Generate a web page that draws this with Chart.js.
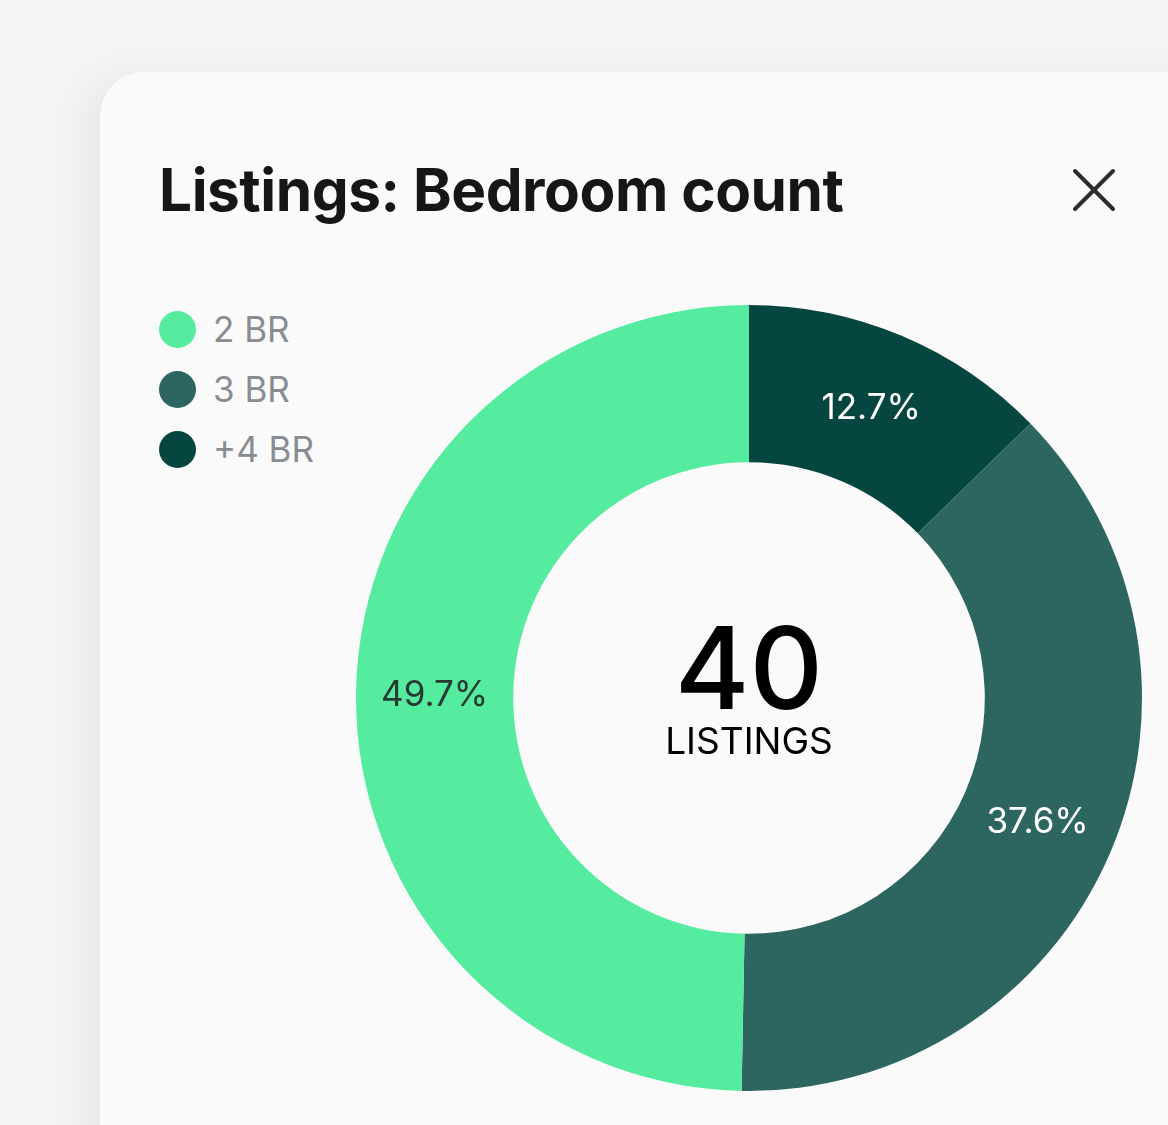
<!DOCTYPE html>
<html>
<head>
<meta charset="utf-8">
<script src="https://cdn.jsdelivr.net/npm/chart.js@4/dist/chart.umd.min.js"></script>
<style>
  html, body { margin: 0; padding: 0; }
  body { width: 1168px; height: 1125px; background: #f4f4f4; overflow: hidden; position: relative; font-family: Inter, "Noto Sans", sans-serif; }
  #card { position: absolute; left: 100px; top: 72px; width: 1200px; height: 1200px; background: #fafafa; border-radius: 44px; box-shadow: -14px 6px 40px rgba(0,0,0,0.06); }
  #title { position: absolute; left: 159px; top: 154px; margin: 0; font-size: 58.5px; font-weight: 700; color: #161616; letter-spacing: -0.45px; white-space: nowrap; }
  #close { position: absolute; left: 1072px; top: 168px; }
  #legend { position: absolute; left: 159px; top: 299px; list-style: none; margin: 0; padding: 0; }
  #legend li { display: flex; align-items: center; height: 60px; font-size: 35px; color: #898c90; }
  #legend li span.dot { width: 37px; height: 37px; border-radius: 50%; margin-right: 17px; display: inline-block; }
  #wrap { position: absolute; left: 0; top: 0; width: 1168px; height: 1125px; }
</style>
</head>
<body>
<div id="card"></div>
<h1 id="title">Listings: Bedroom count</h1>
<svg id="close" width="44" height="44" viewBox="0 0 44 44"><path d="M3 3 L41 41 M41 3 L3 41" stroke="#2b2d31" stroke-width="4" stroke-linecap="round"/></svg>
<ul id="legend"></ul>
<div id="wrap"><canvas id="c" width="1168" height="1125"></canvas></div>
<script>
const categories = ['+4 BR', '3 BR', '2 BR'];
const shares = [12.7, 37.6, 49.7];
const colors = ['#064640', '#2d6660', '#55eca0'];
const labelColors = ['#ffffff', '#ffffff', '#263a31'];
const totalListings = 40;
const centerCaption = 'LISTINGS';

const sliceLabels = {
  id: 'sliceLabels',
  afterDatasetsDraw(chart) {
    const ctx = chart.ctx;
    const meta = chart.getDatasetMeta(0);
    ctx.save();
    ctx.font = '400 35px Inter, "Noto Sans", sans-serif';
    ctx.textAlign = 'center';
    ctx.textBaseline = 'middle';
    meta.data.forEach((arc, i) => {
      const p = arc.tooltipPosition();
      ctx.fillStyle = labelColors[i];
      ctx.fillText(shares[i].toFixed(1) + '%', p.x, p.y);
    });
    ctx.restore();
  }
};

const centerText = {
  id: 'centerText',
  afterDatasetsDraw(chart) {
    const ctx = chart.ctx;
    const arc = chart.getDatasetMeta(0).data[0];
    const cx = arc.x, cy = arc.y;
    ctx.save();
    ctx.textAlign = 'center';
    ctx.textBaseline = 'alphabetic';
    ctx.fillStyle = '#000000';
    ctx.font = '500 114px Inter, "Noto Sans", sans-serif';
    ctx.fillText(String(totalListings), cx, cy + 11);
    ctx.font = '400 37px Inter, "Noto Sans", sans-serif';
    ctx.fillText(centerCaption, cx, cy + 56);
    ctx.restore();
  }
};

const htmlLegend = {
  id: 'htmlLegend',
  afterUpdate(chart) {
    const ul = document.getElementById('legend');
    ul.innerHTML = '';
    const items = chart.options.plugins.legend.labels.generateLabels(chart).slice().reverse();
    items.forEach(item => {
      const li = document.createElement('li');
      const dot = document.createElement('span');
      dot.className = 'dot';
      dot.style.background = item.fillStyle;
      li.appendChild(dot);
      li.appendChild(document.createTextNode(item.text));
      ul.appendChild(li);
    });
  }
};

new Chart(document.getElementById('c'), {
  type: 'doughnut',
  data: {
    labels: categories,
    datasets: [{
      data: shares,
      backgroundColor: colors,
      borderWidth: 0,
      hoverOffset: 0
    }]
  },
  options: {
    responsive: false,
    animation: false,
    cutout: '60%',
    layout: { padding: { left: 356, right: 26, top: 305, bottom: 34 } },
    plugins: {
      legend: { display: false },
      tooltip: { enabled: false }
    }
  },
  plugins: [sliceLabels, centerText, htmlLegend]
});
</script>
</body>
</html>
